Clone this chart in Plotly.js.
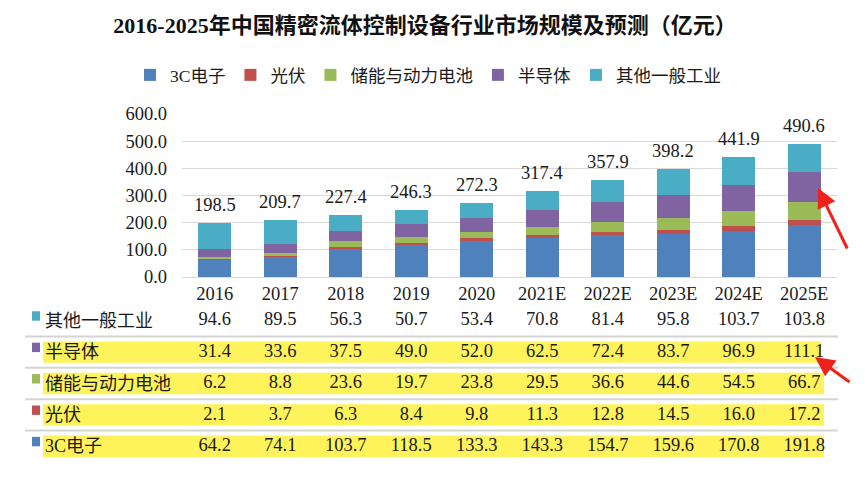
<!DOCTYPE html>
<html>
<head>
<meta charset="utf-8">
<script src="https://cdn.plot.ly/plotly-3.0.1.min.js"></script>
<style>html,body{margin:0;padding:0;background:#fff;}#chart{width:865px;height:479px;}</style>
</head>
<body>
<div id="chart"></div>
<script>
// ---- data ----
const years = ["2016","2017","2018","2019","2020","2021E","2022E","2023E","2024E","2025E"];
const seriesNames = ["3C电子","光伏","储能与动力电池","半导体","其他一般工业"];
const v3C      = [64.2, 74.1, 103.7, 118.5, 133.3, 143.3, 154.7, 159.6, 170.8, 191.8];
const vPV      = [2.1, 3.7, 6.3, 8.4, 9.8, 11.3, 12.8, 14.5, 16.0, 17.2];
const vBattery = [6.2, 8.8, 23.6, 19.7, 23.8, 29.5, 36.6, 44.6, 54.5, 66.7];
const vSemi    = [31.4, 33.6, 37.5, 49.0, 52.0, 62.5, 72.4, 83.7, 96.9, 111.1];
const vOther   = [94.6, 89.5, 56.3, 50.7, 53.4, 70.8, 81.4, 95.8, 103.7, 103.8];
const totals   = [198.5, 209.7, 227.4, 246.3, 272.3, 317.4, 357.9, 398.2, 441.9, 490.6];
const tableRows = ["其他一般工业","半导体","储能与动力电池","光伏","3C电子"];

// ---- styles ----
const W = 865, H = 479;
const colors = ["#4F81BD","#C0504D","#9BBB59","#8064A2","#4BACC6"];
const FONT = "'Liberation Serif', 'Times New Roman', 'Noto Sans CJK SC', serif";
const TXT = "#1a1a1a";
const px = x => x / W;
const py = y => (H - y) / H;

const seriesVals = [v3C, vPV, vBattery, vSemi, vOther];
const traces = seriesVals.map((vals, i) => ({
  type: "bar", name: seriesNames[i], x: years, y: vals,
  marker: {color: colors[i]}, xaxis: "x", yaxis: "y", hoverinfo: "x+y+name"
}));

// table value rows (order top to bottom)
const tableVals = [vOther, vSemi, vBattery, vPV, v3C];
tableRows.forEach((r, i) => {
  traces.push({
    type: "scatter", mode: "text", x: years, y: years.map(() => r),
    text: tableVals[i].map(v => v.toFixed(1)), textposition: "middle center",
    textfont: {family: FONT, size: 18.5, color: TXT},
    xaxis: "x", yaxis: "y2", showlegend: false, hoverinfo: "skip", cliponaxis: false
  });
});

const annotations = [];
years.forEach((yr, i) => {
  annotations.push({
    x: i, y: totals[i], xref: "x", yref: "y", text: totals[i].toFixed(1),
    showarrow: false, yanchor: "bottom", yshift: 6,
    font: {family: FONT, size: 18.5, color: TXT}
  });
});
const colorByRow = {"其他一般工业": colors[4], "半导体": colors[3], "储能与动力电池": colors[2], "光伏": colors[1], "3C电子": colors[0]};
const shapes = [];
tableRows.forEach((r, i) => {
  annotations.push({
    x: px(43), y: i, xref: "paper", yref: "y2", text: r, showarrow: false,
    xanchor: "left", yanchor: "middle", font: {family: FONT, size: 18, color: TXT}
  });
  shapes.push({type: "rect", xref: "paper", yref: "y2", x0: px(32), x1: px(40),
    y0: i - 0.3, y1: i + 0.0, fillcolor: colorByRow[r], line: {width: 0}, layer: "above"});
  if (i > 0) {
    shapes.push({type: "rect", xref: "paper", yref: "y2", x0: px(43), x1: px(i === 1 ? 821 : 824),
      y0: i - 0.34, y1: i + 0.34, fillcolor: "#FFF35C", line: {width: 0}, layer: "below"});
  }
  if (i < tableRows.length - 1) {
    shapes.push({type: "line", xref: "paper", yref: "y2", x0: px(25), x1: px(838),
      y0: i + 0.5, y1: i + 0.5, line: {color: "#D4D4D4", width: 2}, layer: "below"});
  }
});
// red arrows
annotations.push({x: px(818), y: py(188), xref: "paper", yref: "paper", text: "", showarrow: true,
  ax: 30, ay: 62, arrowcolor: "#F0201A", arrowwidth: 3, arrowhead: 2, arrowsize: 1.3});
annotations.push({x: px(815), y: py(357), xref: "paper", yref: "paper", text: "", showarrow: true,
  ax: 36, ay: 26, arrowcolor: "#F0201A", arrowwidth: 3, arrowhead: 2, arrowsize: 1.3});

const layout = {
  width: W, height: H,
  margin: {l: 0, r: 0, t: 0, b: 0, autoexpand: false},
  paper_bgcolor: "#fff", plot_bgcolor: "rgba(0,0,0,0)",
  font: {family: FONT, size: 17, color: TXT},
  title: {text: "<b>2016-2025年中国精密流体控制设备行业市场规模及预测（亿元）</b>",
    x: px(425), xanchor: "center", y: py(25), yanchor: "middle", xref: "paper", yref: "paper",
    font: {family: "'Liberation Serif', 'Noto Sans CJK SC', serif", size: 22, color: "#111"}},
  barmode: "stack", bargap: 0.5,
  showlegend: true,
  legend: {orientation: "h", x: px(428), xanchor: "center", y: py(75), yanchor: "middle",
    traceorder: "normal", font: {family: FONT, size: 17.5, color: TXT}, itemwidth: 30},
  xaxis: {domain: [px(182), px(837)], type: "category", categoryorder: "array", categoryarray: years,
    range: [-0.5, 9.5], autorange: false,
    showline: true, linecolor: "#D9D9D9", linewidth: 1, ticks: "", showgrid: false,
    tickfont: {family: FONT, size: 18.5, color: TXT}, anchor: "y", fixedrange: true},
  yaxis: {domain: [py(277), py(114)], range: [0, 600], autorange: false, dtick: 100, tickformat: ".1f",
    showgrid: true, gridcolor: "#D9D9D9", gridwidth: 1, zeroline: false, ticks: "",
    ticklabelstandoff: 14, tickfont: {family: FONT, size: 18.5, color: TXT}, fixedrange: true},
  yaxis2: {domain: [py(462), py(305)], type: "category", categoryorder: "array", categoryarray: tableRows,
    range: [4.5, -0.5], autorange: false, showgrid: false, zeroline: false, showticklabels: false,
    showline: false, anchor: "x", fixedrange: true},
  annotations: annotations,
  shapes: shapes
};

Plotly.newPlot("chart", traces, layout, {displayModeBar: false, staticPlot: true});
</script>
</body>
</html>
